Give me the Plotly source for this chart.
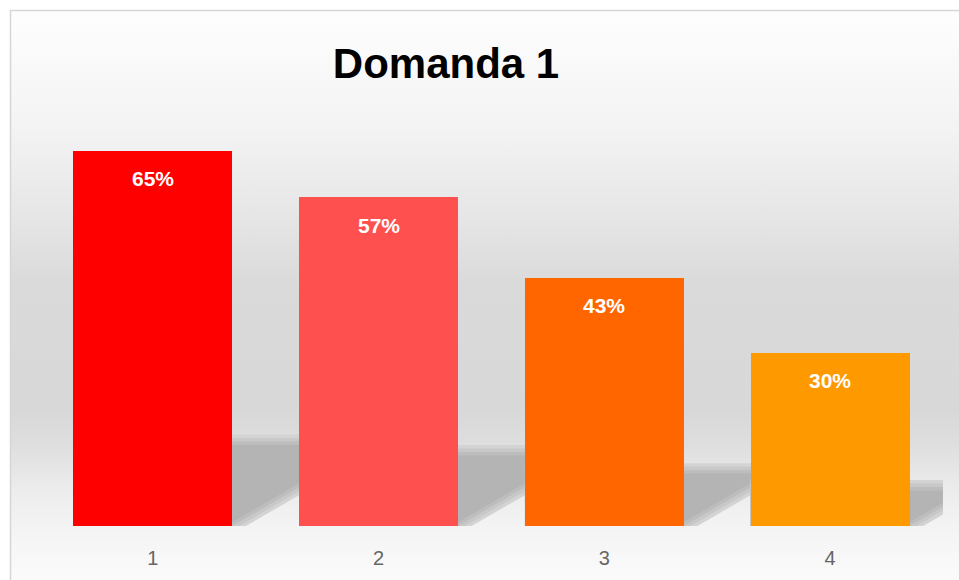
import base64
import plotly.graph_objects as go

# ---- data ----
categories = [1, 2, 3, 4]
tick_labels = ["1", "2", "3", "4"]
values = [65, 57, 43, 30]
bar_colors = ["#FF0000", "#FF5050", "#FF6600", "#FF9900"]
title_text = "Domanda 1"

W, H = 959, 580
L_M, R_M, T_M, B_M = 40, 16, 122, 54
YMAX = 70
BAR_W = 0.704

plot_w = W - L_M - R_M
plot_h = H - T_M - B_M
sx = plot_w / 4.0          # px per x unit
sy = plot_h / YMAX         # px per %

fig = go.Figure()
fig.add_trace(go.Bar(
    x=categories, y=values, width=BAR_W,
    marker=dict(color=bar_colors, line=dict(width=0)),
    hoverinfo="skip", showlegend=False,
))

# value labels inside bars near the top
annotations = []
for c, v in zip(categories, values):
    annotations.append(dict(
        x=c, y=v, xref="x", yref="y", text=f"<b>{v}%</b>", showarrow=False,
        yanchor="middle", yshift=-28,
        font=dict(family="Liberation Sans, Arial, sans-serif", size=21, color="#FFFFFF"),
    ))

# background gradient (frame area) as an SVG image
svg = (
    '<svg xmlns="http://www.w3.org/2000/svg" width="950" height="571" viewBox="0 0 950 571" '
    'preserveAspectRatio="none"><defs><linearGradient id="g" x1="0" y1="0" x2="0" y2="1">'
    '<stop offset="0" stop-color="#fefefe"/>'
    '<stop offset="0.21" stop-color="#f3f3f3"/>'
    '<stop offset="0.36" stop-color="#e6e6e6"/>'
    '<stop offset="0.48" stop-color="#dadada"/>'
    '<stop offset="0.70" stop-color="#d8d8d8"/>'
    '<stop offset="0.76" stop-color="#dedede"/>'
    '<stop offset="0.84" stop-color="#ececec"/>'
    '<stop offset="0.91" stop-color="#f4f4f4"/>'
    '<stop offset="1" stop-color="#fbfbfb"/>'
    '</linearGradient></defs><rect width="950" height="571" fill="url(#g)"/></svg>'
)
src = "data:image/svg+xml;base64," + base64.b64encode(svg.encode()).decode()

def px_to_paper_x(px):
    return (px - L_M) / plot_w

def px_to_paper_y(py):
    return (H - B_M - py) / plot_h

fig.add_layout_image(dict(
    source=src, xref="paper", yref="paper",
    x=px_to_paper_x(10), y=px_to_paper_y(10),
    sizex=(W + 1 - 10) / plot_w, sizey=(H + 1 - 10) / plot_h,
    xanchor="left", yanchor="top", sizing="stretch", layer="below",
))

shapes = []
# frame border
shapes.append(dict(
    type="rect", xref="paper", yref="paper",
    x0=px_to_paper_x(10.5), y0=px_to_paper_y(H + 5),
    x1=px_to_paper_x(W + 5), y1=px_to_paper_y(10.5),
    line=dict(color="#d6d6d6", width=1.5), fillcolor="rgba(0,0,0,0)", layer="below",
))

# floor shadows cast behind each bar (derived from the bar values)
slope = 0.58 * sx / sy  # % per x unit
for c, v in zip(categories, values):
    lb = c - BAR_W / 2
    rb = c + BAR_W / 2
    ls = 0.225 * v
    layers = [(1.2, 0.06, "#d3d3d3"), (0.6, 0.03, "#c8c8c8"),
              (0.0, 0.0, "#bdbdbd"), (-0.6, -0.03, "#b4b4b4")]
    for extra_top, extra_x, col in layers:
        top = ls + extra_top
        x_start = rb + extra_x
        xd = x_start + top / slope
        path = f"M {lb},0 L {x_start},0 L {xd},{top} L {lb},{top} Z"
        shapes.append(dict(type="path", xref="x", yref="y", path=path,
                           fillcolor=col, line=dict(width=0), layer="below"))

fig.update_layout(
    width=W, height=H,
    margin=dict(l=L_M, r=R_M, t=T_M, b=B_M, pad=0),
    paper_bgcolor="#FFFFFF",
    plot_bgcolor="rgba(0,0,0,0)",
    shapes=shapes,
    annotations=annotations,
    bargap=0,
    title=dict(
        text=f"<b>{title_text}</b>", xref="container", yref="container",
        x=446 / W, y=1 - 63 / H, xanchor="center", yanchor="middle",
        font=dict(family="Liberation Sans, Arial, sans-serif", size=42, color="#000000"),
    ),
    xaxis=dict(
        range=[0.5, 4.5], tickmode="array", tickvals=categories, ticktext=tick_labels,
        showgrid=False, zeroline=False, showline=False,
        ticks="outside", ticklen=14, tickcolor="rgba(0,0,0,0)",
        tickfont=dict(family="Liberation Sans, Arial, sans-serif", size=20, color="#666666"),
        fixedrange=True,
    ),
    yaxis=dict(
        range=[0, YMAX], visible=False, showgrid=False, zeroline=False, fixedrange=True,
    ),
)

fig.write_html(
    "out.html",
    config={"displayModeBar": False},
    post_script="document.body.style.margin='0';document.body.style.overflow='hidden';",
)
